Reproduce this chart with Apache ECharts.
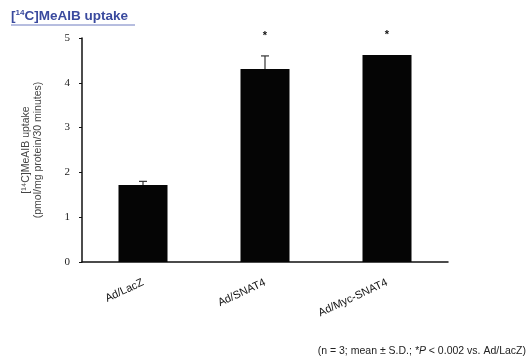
<!DOCTYPE html>
<html><head><meta charset="utf-8">
<script src="https://cdn.jsdelivr.net/npm/echarts@6/dist/echarts.min.js"></script>
<style>html,body{margin:0;padding:0;background:#fff}#c{width:528px;height:358px}</style>
</head><body><div id="c"></div>
<script>
var categories = ["Ad/LacZ", "Ad/SNAT4", "Ad/Myc-SNAT4"];
var meanValues = [1.72, 4.31, 4.62];
var sdValues = [0.08, 0.29, 0.0];
var sigMarks = ["", "*", "*"];
var yTicks = [0, 1, 2, 3, 4, 5];

var chart = echarts.init(document.getElementById('c'), null, {renderer: 'canvas'});
var font = 'Liberation Sans, Arial, sans-serif';
chart.setOption({
  animation: false,
  backgroundColor: '#fff',
  title: {
    text: '{a|[}{s|14}{a|C]MeAIB uptake}',
    left: 11, top: 9,
    padding: 0,
    textStyle: {
      rich: {
        a: {fontFamily: font, fontSize: 13.5, fontWeight: 'bold', color: '#3a4a9e'},
        s: {fontFamily: font, fontSize: 8, fontWeight: 'bold', color: '#3a4a9e', verticalAlign: 'top', padding: [0,0,6,0]}
      }
    }
  },
  graphic: [
    {type: 'line', shape: {x1: 11, y1: 25, x2: 135, y2: 25}, style: {stroke: '#6f7cc0', lineWidth: 1}},
    {type: 'text', right: 2, top: 346, style: {
      text: '(n = 3; mean ± S.D.; {i|*P} < 0.002 vs. Ad/LacZ)',
      font: '10.5px ' + font, fill: '#222',
      rich: {i: {fontStyle: 'italic', fontSize: 10.5, fontFamily: font, fill: '#222'}}
    }}
  ],
  grid: {left: 82, right: 80, top: 38, bottom: 96},
  xAxis: {
    type: 'category', data: categories,
    axisLine: {lineStyle: {color: '#111', width: 1.5}},
    axisTick: {show: false},
    axisLabel: {rotate: 25, margin: 20, color: '#111', fontFamily: font, fontSize: 11}
  },
  yAxis: {
    type: 'value', min: yTicks[0], max: yTicks[yTicks.length-1], interval: 1,
    name: '[¹⁴C]MeAIB uptake\n(pmol/mg protein/30 minutes)',
    nameLocation: 'middle', nameGap: 38, nameRotate: 90,
    nameTextStyle: {color: '#444', fontFamily: font, fontSize: 10.5, lineHeight: 12},
    axisLine: {show: true, lineStyle: {color: '#111', width: 1.5}},
    axisTick: {show: true, length: 3, lineStyle: {color: '#111'}},
    splitLine: {show: false},
    axisLabel: {color: '#222', fontFamily: 'Liberation Serif, serif', fontSize: 11, margin: 12}
  },
  series: [
    {
      type: 'bar', data: meanValues, barWidth: 49,
      itemStyle: {color: '#050505'}, z: 2
    },
    {
      type: 'custom', z: 3,
      data: meanValues.map(function (v, i) { return [i, v, sdValues[i]]; }),
      renderItem: function (params, api) {
        var i = api.value(0), v = api.value(1), e = api.value(2);
        var p0 = api.coord([i, v]);
        var p1 = api.coord([i, v + e]);
        var children = [];
        if (e > 0) {
          children.push({type: 'line', shape: {x1: p0[0], y1: p0[1], x2: p1[0], y2: p1[1]}, style: {stroke: '#333', lineWidth: 1.2}});
          children.push({type: 'line', shape: {x1: p1[0]-4, y1: p1[1], x2: p1[0]+4, y2: p1[1]}, style: {stroke: '#333', lineWidth: 1.2}});
        }
        var mark = sigMarks[params.dataIndex];
        if (mark) {
          children.push({type: 'text', style: {text: mark, x: p1[0], y: p1[1] - 20, align: 'center', verticalAlign: 'middle', font: 'bold 11px ' + font, fill: '#111'}});
        }
        return {type: 'group', children: children};
      }
    }
  ]
});
</script></body></html>
